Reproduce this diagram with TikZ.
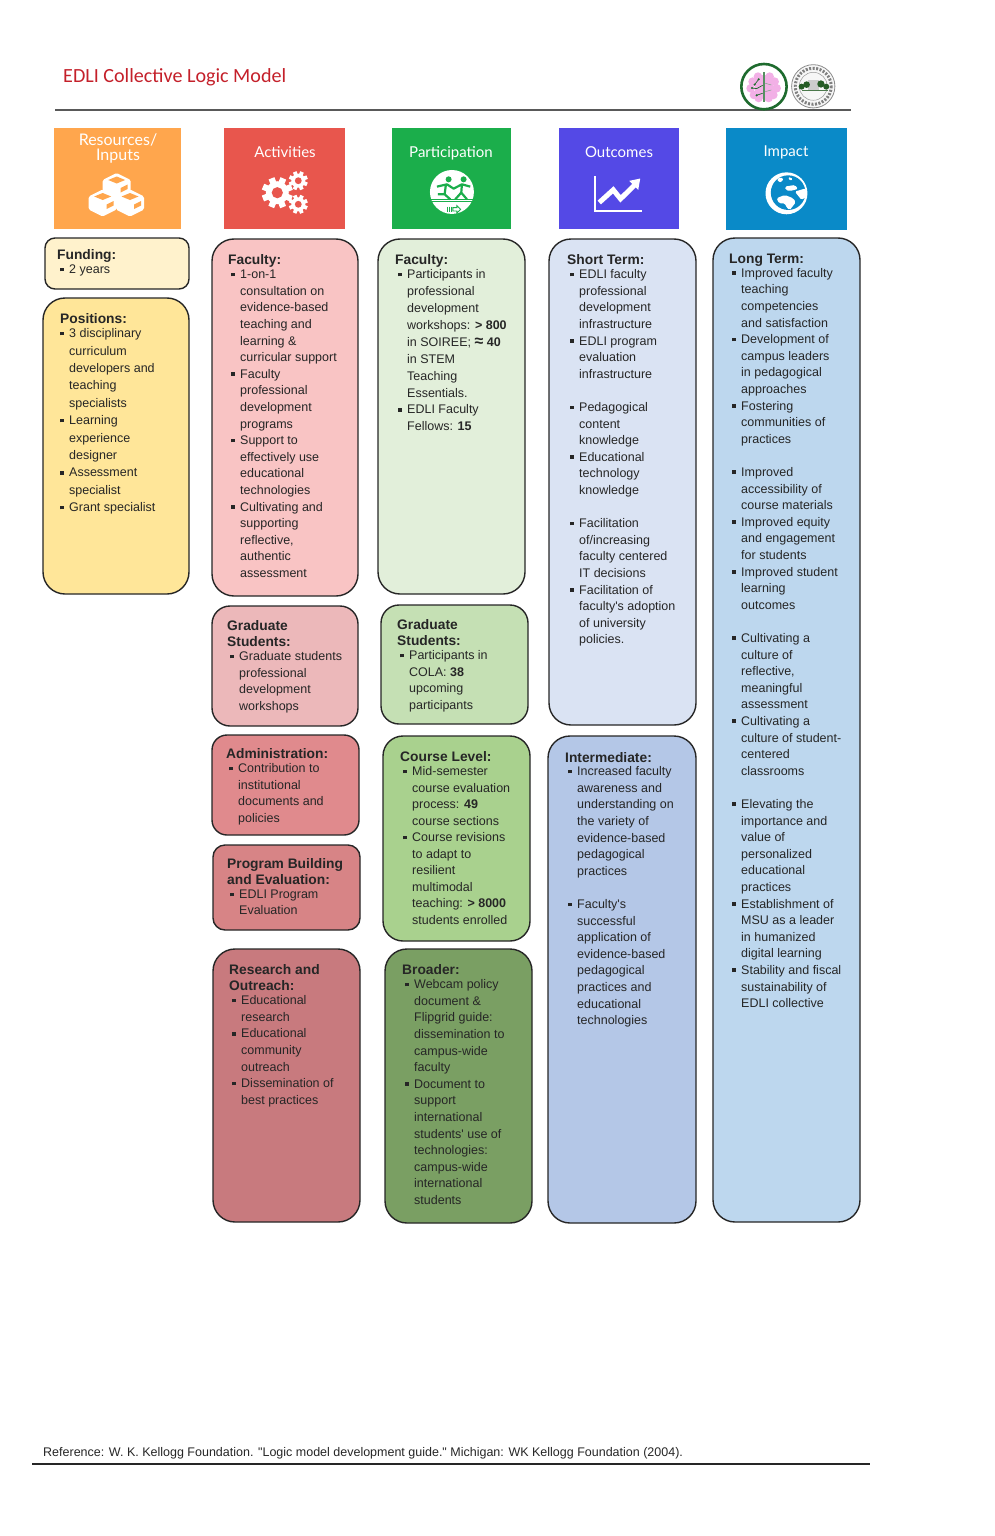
\documentclass[tikz,border=0pt]{standalone}
\usepackage{fontspec}
\newfontfamily\bodyfont{Liberation Sans}
\newfontfamily\headfont{Lato}
\newfontfamily\titlefont{Carlito}
\usetikzlibrary{fit}

\definecolor{cardink}{HTML}{262626}
\definecolor{headorange}{HTML}{FFA64D}
\definecolor{headred}{HTML}{E8564D}
\definecolor{headgreen}{HTML}{1BAE4B}
\definecolor{headpurple}{HTML}{5449E6}
\definecolor{headblue}{HTML}{0A8AC8}
\definecolor{titlered}{HTML}{C4202A}
\definecolor{fundingfill}{HTML}{FFF2CC}
\definecolor{positionsfill}{HTML}{FFE699}
\definecolor{facultyfill}{HTML}{F9C4C4}
\definecolor{gradfill}{HTML}{ECB8BA}
\definecolor{adminfill}{HTML}{E08A8D}
\definecolor{programfill}{HTML}{D78486}
\definecolor{researchfill}{HTML}{C87A7E}
\definecolor{partfill}{HTML}{E2EFDA}
\definecolor{partgradfill}{HTML}{C5E0B4}
\definecolor{coursefill}{HTML}{A9D18E}
\definecolor{broaderfill}{HTML}{7A9F63}
\definecolor{shortfill}{HTML}{DAE3F3}
\definecolor{interfill}{HTML}{B4C7E7}
\definecolor{longfill}{HTML}{BDD7EE}
\definecolor{brainpink}{HTML}{F2B0E6}
\definecolor{braingreen}{HTML}{1E6B2E}

\newcommand{\cardtitle}[1]{{\fontsize{13.8}{16}\selectfont\bfseries #1}}
\newcommand{\bu}{\makebox[12pt][l]{\hspace{3pt}\raisebox{2.4pt}{\rule{3.6pt}{3.6pt}}}}
\newcommand{\co}{\hspace*{12pt}}
\newcommand{\gapline}{\mbox{}\\}
\newcommand{\gearicon}[4]{%
  \foreach \a in {0,45,...,315}
    \fill[white,rotate around={\a+22:(#1,#2)}] (#1-0.2*#3,#2-#3) rectangle (#1+0.2*#3,#2);
  \fill[white] (#1,#2) circle ({0.74*#3});
  \fill[#4] (#1,#2) circle ({0.36*#3});
}

\tikzset{
  cardbox/.style={draw=black!85, line width=1.4pt, inner sep=0pt},
  headbox/.style={inner sep=0pt},
  headtext/.style={text=white, font=\headfont\fontsize{#1}{15}\selectfont, align=center, inner sep=0pt},
  headtext/.default=15,
  cardtext/.style={inner sep=0pt, anchor=north west, align=left, text=cardink,
    font=\bodyfont\fontsize{12.5}{#1}\selectfont},
  cardtext/.default=16.6,
  cubeicon/.pic={
    \fill[white,rounded corners=1.5pt] (0,-13) -- (14,-6) -- (14,7) -- (0,14) -- (-14,7) -- (-14,-6) -- cycle;
    \fill[headorange] (0,-9.5) -- (8.5,-6) -- (0,-2.5) -- (-8.5,-6) -- cycle;
    \fill[headorange] (4,2) -- (11,-1.5) -- (11,3) -- (4,6.5) -- cycle;
  }
}

\begin{document}
\begin{tikzpicture}[x=1pt,y=-1pt]
  \useasboundingbox (0,0) rectangle (994,1536);

  \node[anchor=west, inner sep=0pt, text=titlered, font=\titlefont\fontsize{20.1}{24}\selectfont] (maintitle) at (63,77.5) {EDLI Collective Logic Model};
  \coordinate (topleft) at (55,110);
  \coordinate (topright) at (851,110);
  \draw[black!65, line width=1.4pt] (topleft) -- (topright);

  % logos
  \begin{scope}[shift={(738,60)},scale=0.333]
    \draw[braingreen, line width=2.6pt, fill=white] (78,80) circle (68);
    \foreach \bx/\by in {95/50,110/65,116/85,106/105,92/114,60/50,44/65,38/85,48/105,62/114}
      \fill[brainpink] (\bx,\by) circle (13);
    \fill[brainpink] (52,45) rectangle (104,115);
    \fill[braingreen!75] (74,35) rectangle (82,125);
    \draw[braingreen, line width=0.7pt] (62,58) -- (50,74) (74,76) -- (56,86) -- (42,84) (74,100) -- (56,106);
    \fill[braingreen] (50,74) circle (3.5) (42,84) circle (3.5) (56,106) circle (3.5) (62,58) circle (3.5);
    \draw[braingreen!60, line width=0.5pt] (82,70) -- (100,75) (82,95) -- (100,90);
  \end{scope}
  \begin{scope}[shift={(735,58)},scale=0.333]
    \draw[black!45, fill=black!3, line width=0.8pt] (235,85) circle (65);
    \draw[black!50, line width=3pt, dash pattern=on 2pt off 1.5pt] (235,85) circle (54);
    \draw[black!40, line width=0.5pt] (235,85) circle (42);
    \fill[black!20] (218,66) rectangle (252,98);
    \foreach \bx/\by/\br in {200/86/9,215/80/10,258/78/11,274/86/9}
      \fill[green!25!black!85] (\bx,\by) circle (\br);
    \fill[green!25!black!70] (200,95) rectangle (280,100);
  \end{scope}

  % column heads
  \node[headbox, fill=headorange, fit={(54,128) (181,229)}] (headresources) {};
  \node[headbox, fill=headred, fit={(224,128) (345,229)}] (headactivities) {};
  \node[headbox, fill=headgreen, fit={(392,128) (511,229)}] (headparticipation) {};
  \node[headbox, fill=headpurple, fit={(559,128) (679,229)}] (headoutcomes) {};
  \node[headbox, fill=headblue, fit={(726,128) (847,230)}] (headimpact) {};
  \node[headtext=16] (labelresources) at (118,148) {Resources/\\Inputs};
  \node[headtext] (labelactivities) at (285,152) {Activities};
  \node[headtext] (labelparticipation) at (451,153) {Participation};
  \node[headtext] (labeloutcomes) at (619,152) {Outcomes};
  \node[headtext] (labelimpact) at (786,152) {Impact};

  % head icons
  \pic at (116.7,186) {cubeicon};
  \pic at (102.7,202.5) {cubeicon};
  \pic at (130,202.5) {cubeicon};

  \gearicon{277.3}{192.7}{15.5}{headred}
  \gearicon{298.3}{180.7}{9.5}{headred}
  \gearicon{298.3}{204.3}{9.5}{headred}

  \begin{scope}[shift={(425.3,166)},scale=0.333]
    \fill[white] (80,78) circle (66);
    \fill[headgreen] (70,40) circle (9) (115,40) circle (9);
    \draw[headgreen, line width=2.2pt, line join=round] (35,62) -- (65,55) -- (85,68) -- (110,55) -- (135,62)
      (62,55) -- (58,85) -- (38,85) (58,85) -- (75,100)
      (110,55) -- (108,80) -- (90,100) (108,80) -- (125,100);
    \draw[headgreen, line width=0.9pt] (18,100) -- (142,100) (20,107) -- (140,107);
    \draw[headgreen, line width=0.9pt] (68,122) -- (68,138) (73,122) -- (73,138) (78,122) -- (78,138);
    \draw[headgreen, line width=0.9pt] (83,125) -- (95,125) -- (95,119) -- (106,130) -- (95,141) -- (95,135) -- (83,135) -- cycle;
  \end{scope}

  \begin{scope}[shift={(530,50)},scale=0.333]
    \draw[white, line width=2.4pt] (195,378) -- (195,484) -- (337,484);
    \draw[white, line width=5pt, line join=miter] (208,458) -- (250,420) -- (272,447) -- (320,400);
    \fill[white] (298,393) -- (331,386) -- (325,420) -- cycle;
  \end{scope}

  \begin{scope}[shift={(756.5,165)},scale=0.333]
    \fill[white] (90,85) circle (63);
    \fill[headblue] (95,83) circle (52);
    \fill[white, rounded corners=1.5pt] (60,100) -- (85,90) -- (110,100) -- (118,112) -- (100,135) -- (92,130) -- (85,115) -- (68,115) -- cycle
      (85,65) -- (115,60) -- (125,72) -- (100,78) -- (88,75) -- cycle
      (62,40) -- (80,38) -- (78,50) -- (66,52) -- cycle
      (95,35) -- (110,42) -- (100,48) -- cycle
      (115,80) -- (148,70) -- (150,95) -- (135,105) -- (125,92) -- cycle;
  \end{scope}

  % resources column
  \node[cardbox, rounded corners=10pt, fill=fundingfill, fit={(45,238) (189,289)}] (fundingbox) {};
  \node[cardtext] (fundingtext) at (57,249.5) {\cardtitle{Funding:}\\[-2.6pt]
    \bu 2 years};
  \node[cardbox, rounded corners=22pt, fill=positionsfill, fit={(43,298) (189,594)}] (positionsbox) {};
  \node[cardtext=17.4] (positionstext) at (57,313.5) {\hspace*{3pt}\cardtitle{Positions:}\\[-3.4pt]
    \bu 3 disciplinary\\
    \co curriculum\\
    \co developers and\\
    \co teaching\\
    \co specialists\\
    \bu Learning\\
    \co experience\\
    \co designer\\
    \bu Assessment\\
    \co specialist\\
    \bu Grant specialist};

  % activities column
  \node[cardbox, rounded corners=22pt, fill=facultyfill, fit={(212,239) (358,596)}] (facultybox) {};
  \node[cardtext] (facultytext) at (228,254.5) {\cardtitle{Faculty:}\\[-2.6pt]
    \bu 1-on-1\\
    \co consultation on\\
    \co evidence-based\\
    \co teaching and\\
    \co learning \&\\
    \co curricular support\\
    \bu Faculty\\
    \co professional\\
    \co development\\
    \co programs\\
    \bu Support to\\
    \co effectively use\\
    \co educational\\
    \co technologies\\
    \bu Cultivating and\\
    \co supporting\\
    \co reflective,\\
    \co authentic\\
    \co assessment};
  \node[cardbox, rounded corners=18pt, fill=gradfill, fit={(212,606) (358,726)}] (gradbox) {};
  \node[cardtext] (gradtext) at (227,620.5) {\cardtitle{Graduate}\\[-0.6pt]
    \cardtitle{Students:}\\[-2.6pt]
    \bu Graduate students\\
    \co professional\\
    \co development\\
    \co workshops};
  \node[cardbox, rounded corners=15pt, fill=adminfill, fit={(212,735) (359,835)}] (adminbox) {};
  \node[cardtext] (admintext) at (226,748.5) {\cardtitle{Administration:}\\[-2.6pt]
    \bu Contribution to\\
    \co institutional\\
    \co documents and\\
    \co policies};
  \node[cardbox, rounded corners=12pt, fill=programfill, fit={(213,845) (360,930)}] (programbox) {};
  \node[cardtext=16] (programtext) at (227,858.5) {\cardtitle{Program Building}\\
    \cardtitle{and Evaluation:}\\[-2pt]
    \bu EDLI Program\\
    \co Evaluation};
  \node[cardbox, rounded corners=22pt, fill=researchfill, fit={(213,949) (360,1222)}] (researchbox) {};
  \node[cardtext] (researchtext) at (229,964.5) {\cardtitle{Research and}\\[-0.6pt]
    \cardtitle{Outreach:}\\[-2.6pt]
    \bu Educational\\
    \co research\\
    \bu Educational\\
    \co community\\
    \co outreach\\
    \bu Dissemination of\\
    \co best practices};

  % participation column
  \node[cardbox, rounded corners=22pt, fill=partfill, fit={(378,239) (525,594)}] (partfacultybox) {};
  \node[cardtext=16.9] (partfacultytext) at (395,254.5) {\cardtitle{Faculty:}\\[-2.9pt]
    \bu Participants in\\
    \co professional\\
    \co development\\
    \co workshops: \textbf{> 800}\\
    \co in SOIREE; {\fontsize{16}{16}\selectfont\textbf{≈}} \textbf{40}\\
    \co in STEM\\
    \co Teaching\\
    \co Essentials.\\
    \bu EDLI Faculty\\
    \co Fellows: \textbf{15}};
  \node[cardbox, rounded corners=18pt, fill=partgradfill, fit={(381,605) (528,724)}] (partgradbox) {};
  \node[cardtext] (partgradtext) at (397,619.5) {\cardtitle{Graduate}\\[-0.6pt]
    \cardtitle{Students:}\\[-2.6pt]
    \bu Participants in\\
    \co COLA: \textbf{38}\\
    \co upcoming\\
    \co participants};
  \node[cardbox, rounded corners=20pt, fill=coursefill, fit={(383,736) (530,941)}] (coursebox) {};
  \node[cardtext=16.5] (coursetext) at (400,751.5) {\cardtitle{Course Level:}\\[-2.5pt]
    \bu Mid-semester\\
    \co course evaluation\\
    \co process: \textbf{49}\\
    \co course sections\\
    \bu Course revisions\\
    \co to adapt to\\
    \co resilient\\
    \co multimodal\\
    \co teaching: \textbf{> 8000}\\
    \co students enrolled};
  \node[cardbox, rounded corners=22pt, fill=broaderfill, fit={(385,949) (532,1223)}] (broaderbox) {};
  \node[cardtext] (broadertext) at (402,964.5) {\cardtitle{Broader:}\\[-2.6pt]
    \bu Webcam policy\\
    \co document \&\\
    \co Flipgrid guide:\\
    \co dissemination to\\
    \co campus-wide\\
    \co faculty\\
    \bu Document to\\
    \co support\\
    \co international\\
    \co students' use of\\
    \co technologies:\\
    \co campus-wide\\
    \co international\\
    \co students};

  % outcomes column
  \node[cardbox, rounded corners=22pt, fill=shortfill, fit={(549,239) (696,725)}] (shortbox) {};
  \node[cardtext] (shorttext) at (567,254.5) {\cardtitle{Short Term:}\\[-2.6pt]
    \bu EDLI faculty\\
    \co professional\\
    \co development\\
    \co infrastructure\\
    \bu EDLI program\\
    \co evaluation\\
    \co infrastructure\\
    \gapline
    \bu Pedagogical\\
    \co content\\
    \co knowledge\\
    \bu Educational\\
    \co technology\\
    \co knowledge\\
    \gapline
    \bu Facilitation\\
    \co of/increasing\\
    \co faculty centered\\
    \co IT decisions\\
    \bu Facilitation of\\
    \co faculty's adoption\\
    \co of university\\
    \co policies.};
  \node[cardbox, rounded corners=22pt, fill=interfill, fit={(548,736) (696,1223)}] (interbox) {};
  \node[cardtext] (intertext) at (565,752.5) {\cardtitle{Intermediate:}\\[-3.6pt]
    \bu Increased faculty\\
    \co awareness and\\
    \co understanding on\\
    \co the variety of\\
    \co evidence-based\\
    \co pedagogical\\
    \co practices\\
    \gapline
    \bu Faculty's\\
    \co successful\\
    \co application of\\
    \co evidence-based\\
    \co pedagogical\\
    \co practices and\\
    \co educational\\
    \co technologies};

  % impact column
  \node[cardbox, rounded corners=22pt, fill=longfill, fit={(713,238) (860,1222)}] (longbox) {};
  \node[cardtext] (longtext) at (729,253.5) {\cardtitle{Long Term:}\\[-2.6pt]
    \bu Improved faculty\\
    \co teaching\\
    \co competencies\\
    \co and satisfaction\\
    \bu Development of\\
    \co campus leaders\\
    \co in pedagogical\\
    \co approaches\\
    \bu Fostering\\
    \co communities of\\
    \co practices\\
    \gapline
    \bu Improved\\
    \co accessibility of\\
    \co course materials\\
    \bu Improved equity\\
    \co and engagement\\
    \co for students\\
    \bu Improved student\\
    \co learning\\
    \co outcomes\\
    \gapline
    \bu Cultivating a\\
    \co culture of\\
    \co reflective,\\
    \co meaningful\\
    \co assessment\\
    \bu Cultivating a\\
    \co culture of student-\\
    \co centered\\
    \co classrooms\\
    \gapline
    \bu Elevating the\\
    \co importance and\\
    \co value of\\
    \co personalized\\
    \co educational\\
    \co practices\\
    \bu Establishment of\\
    \co MSU as a leader\\
    \co in humanized\\
    \co digital learning\\
    \bu Stability and fiscal\\
    \co sustainability of\\
    \co EDLI collective};

  % reference line
  \node[anchor=west, inner sep=0pt, text=cardink, font=\bodyfont\fontsize{12.5}{15}\selectfont] (reftext) at (43,1453) {Reference: W. K. Kellogg Foundation. "Logic model development guide." Michigan: WK Kellogg Foundation (2004).};
  \coordinate (botleft) at (32,1464);
  \coordinate (botright) at (870,1464);
  \draw[black!85, line width=1.4pt] (botleft) -- (botright);
\end{tikzpicture}
\end{document}
